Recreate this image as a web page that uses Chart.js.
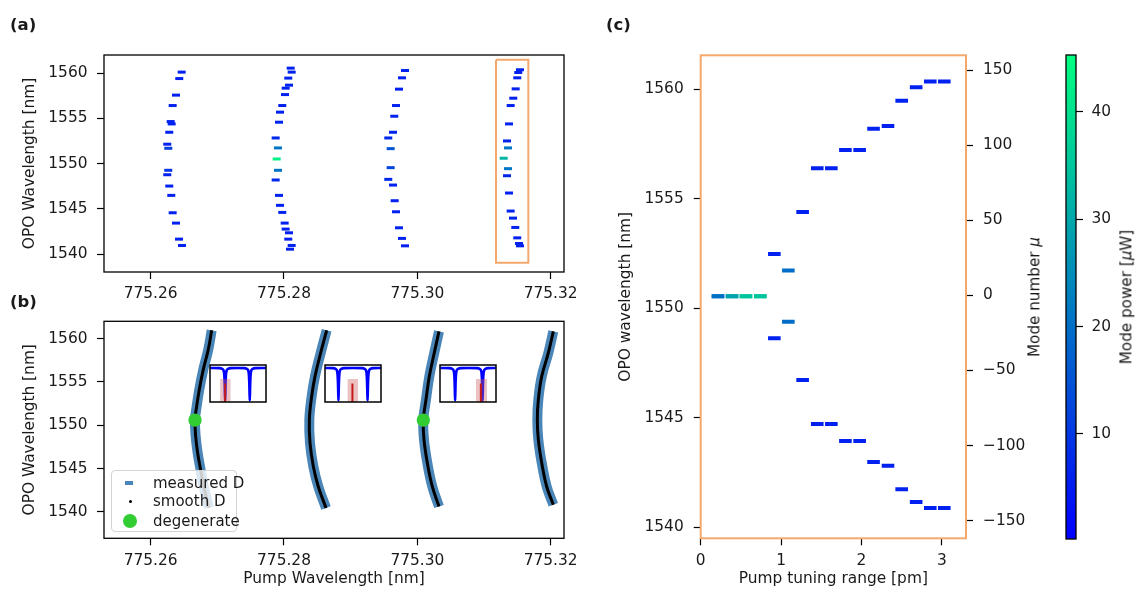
<!DOCTYPE html>
<html lang="en">
<head>
<meta charset="UTF-8">
<title>OPO tuning</title>
<script src="https://cdn.jsdelivr.net/npm/chart.js"></script>
<style>
    body { margin: 0; background: #fff; }
    .fig { position: relative; width: 1140px; height: 598px; overflow: hidden; background: #fff;
           font-family: 'DejaVu Sans', sans-serif; color: #1a1a1a; }
    .fig canvas { position: absolute; }
    .tag { position: absolute; font-weight: bold; font-size: 16.5px; line-height: 16px; }
    .vtitle { position: absolute; font-size: 15.2px; line-height: 1; white-space: nowrap;
              transform: translate(-50%, -50%) rotate(-90deg); }
    .legend { position: absolute; left: 111px; top: 470px; width: 126px; height: 62px; box-sizing: border-box;
              border: 1px solid #d4d4d4; border-radius: 4px; background: rgba(255,255,255,0.8); font-size: 15px; }
    .legend .txt { position: absolute; left: 41px; line-height: 1; transform: translateY(-50%); white-space: nowrap; }
    .legend .mk { position: absolute; }
</style>
</head>
<body>
<div class="fig">
    <canvas id="chartA" width="592" height="308" style="left:0;top:0"></canvas>
    <canvas id="chartB" width="592" height="290" style="left:0;top:308px"></canvas>
    <canvas id="inset1" width="60" height="41" style="left:208px;top:363px"></canvas>
    <canvas id="inset2" width="60" height="41" style="left:323px;top:363px"></canvas>
    <canvas id="inset3" width="60" height="41" style="left:438px;top:363px"></canvas>
    <canvas id="chartC" width="460" height="598" style="left:600px;top:0"></canvas>
    <canvas id="cbar" width="84" height="598" style="left:1056px;top:0"></canvas>

    <div class="tag" style="left:10px;top:17px">(a)</div>
    <div class="tag" style="left:10px;top:294px">(b)</div>
    <div class="tag" style="left:606px;top:17px">(c)</div>

    <div class="legend">
        <div class="mk" style="left:13px;top:10px;width:8px;height:4px;background:#4b86b9"></div>
        <div class="txt" style="top:12px">measured D</div>
        <div class="mk" style="left:16.5px;top:28.5px;width:3px;height:3px;border-radius:50%;background:#000"></div>
        <div class="txt" style="top:30px">smooth D</div>
        <div class="mk" style="left:11px;top:43px;width:14px;height:14px;border-radius:50%;background:#32cd32"></div>
        <div class="txt" style="top:50px">degenerate</div>
    </div>

    <div class="vtitle" style="left:1035px;top:297px">Mode number <i>μ</i></div>
    <div class="vtitle" style="left:1127px;top:297px">Mode power [<i>μ</i>W]</div>
</div>

<script>
    // ---------- (a) OPO lines vs pump wavelength, four pump sweeps ----------
    const pumpA1 = [775.26465, 775.26429, 775.26380, 775.26330, 775.26300, 775.26315, 775.26279, 775.26249, 775.26264,
                    775.26264, 775.26249, 775.26279, 775.26309, 775.26330, 775.26380, 775.26425, 775.26470];
    const opoA1  = [1560.11, 1559.40, 1557.57, 1556.42, 1554.65, 1554.39, 1553.47, 1552.15, 1551.70,
                    1549.27, 1548.78, 1547.53, 1546.50, 1544.58, 1543.44, 1541.67, 1540.97];
    const powA1  = [6, 6, 6, 6, 6, 6, 6, 6, 11, 9, 6, 6, 6, 6, 6, 6, 6];

    const pumpA2 = [775.28100, 775.28115, 775.28064, 775.28075, 775.28025, 775.28015, 775.27974, 775.27940, 775.27925,
                    775.27875, 775.27910, 775.27890, 775.27910, 775.27875, 775.27925, 775.27940, 775.27974, 775.28010,
                    775.28025, 775.28075, 775.28064, 775.28115, 775.28090];
    const opoA2  = [1560.55, 1560.11, 1559.45, 1558.67, 1558.34, 1557.63, 1556.42, 1555.69, 1554.58,
                    1552.84, 1551.74, 1550.52, 1549.27, 1548.20, 1546.50, 1545.40, 1544.62, 1543.44,
                    1542.78, 1542.37, 1541.67, 1540.97, 1540.56];
    const powA2  = [6, 6, 6, 6, 6, 6, 6, 6, 6, 7, 21, 43, 21, 7, 6, 6, 6, 6, 6, 6, 6, 6, 6];

    const pumpA3 = [775.29815, 775.29770, 775.29725, 775.29680, 775.29654, 775.29635, 775.29564, 775.29600,
                    775.29600, 775.29564, 775.29635, 775.29660, 775.29680, 775.29725, 775.29770, 775.29815];
    const opoA3  = [1560.29, 1559.48, 1558.23, 1556.42, 1555.24, 1553.47, 1552.84, 1551.66,
                    1549.56, 1548.27, 1547.64, 1545.91, 1544.69, 1542.92, 1541.75, 1540.93];
    const powA3  = [6, 6, 6, 6, 6, 6, 7, 15, 12, 7, 6, 6, 6, 6, 6, 6];

    const pumpA4 = [775.31540, 775.31514, 775.31499, 775.31475, 775.31439, 775.31400, 775.31375, 775.31345, 775.31360,
                    775.31295, 775.31360, 775.31345, 775.31375, 775.31400, 775.31435, 775.31469, 775.31499, 775.31525,
                    775.31540];
    const opoA4  = [1560.37, 1560.07, 1559.48, 1558.26, 1557.23, 1556.42, 1554.39, 1552.51, 1551.74,
                    1550.60, 1549.45, 1548.67, 1546.76, 1544.77, 1543.99, 1542.96, 1541.81, 1541.19,
                    1540.93];
    const powA4  = [6, 6, 6, 6, 6, 6, 6, 7, 21, 32, 21, 7, 6, 6, 6, 6, 6, 6, 6];

    // sweep shown in detail in (c)
    const highlightPump = [775.3118, 775.31665];
    const highlightOpo  = [1539.05, 1561.47];

    // ---------- (b) measured / smoothed D curves ----------
    const pumpB1 = [775.26915, 775.26864, 775.26789, 775.26729, 775.26690, 775.26665, 775.26675, 775.26705, 775.26740, 775.26800, 775.26875];
    const opoB1  = [1560.96, 1558.73, 1556.42, 1554.11, 1552.18, 1550.65, 1548.72, 1546.80, 1545.25, 1542.80, 1540.48];
    const pumpB2 = [775.28640, 775.28550, 775.28465, 775.28415, 775.28380, 775.28390, 775.28440, 775.28514, 775.28630];
    const opoB2  = [1560.96, 1558.35, 1555.65, 1553.34, 1550.65, 1547.96, 1545.25, 1542.94, 1540.45];
    const pumpB3 = [775.30325, 775.30254, 775.30180, 775.30130, 775.30090, 775.30100, 775.30150, 775.30224, 775.30325];
    const opoB3  = [1560.84, 1558.35, 1555.65, 1552.96, 1550.65, 1548.34, 1545.65, 1542.94, 1540.63];
    const pumpB4 = [775.32040, 775.31965, 775.31866, 775.31815, 775.31800, 775.31815, 775.31866, 775.31940, 775.32040];
    const opoB4  = [1560.84, 1558.35, 1555.65, 1552.96, 1550.65, 1548.34, 1545.65, 1542.94, 1540.83];
    const degPump = [775.26665, 775.30090];
    const degOpo  = [1550.60, 1550.60];

    // resonance insets: dip centres, shaded pump window, pump marker
    const dipsI = [[0.27, 0.71], [0.24, 0.76], [0.27, 0.76]];
    const shadeI = [[0.18, 0.37], [0.40, 0.59], [0.64, 0.84]];
    const markI = [0.27, 0.49, 0.73];
    const dipOffset = [-0.10, -0.05, -0.03, -0.02, -0.013, -0.008, -0.004, 0, 0.004, 0.008, 0.013, 0.02, 0.03, 0.05, 0.10];
    const dipLevel  = [0.915, 0.895, 0.86, 0.80, 0.68, 0.50, 0.25, 0.04, 0.25, 0.50, 0.68, 0.80, 0.86, 0.895, 0.915];
    const baseLevel = 0.92;
    const shadeTop = 0.62;
    const markTop = 0.50;

    // ---------- (c) single sweep: signal / idler vs tuning ----------
    const tuning  = [0.215, 0.39, 0.563, 0.741, 0.916, 1.09, 1.268, 1.45, 1.625, 1.80, 1.977, 2.15, 2.33, 2.50, 2.68, 2.856, 3.03];
    const signalC = [1550.55, 1550.55, 1550.55, 1550.55, 1552.48, 1551.72, 1554.40, 1556.39, 1556.39, 1557.23, 1557.23,
                     1558.20, 1558.32, 1559.47, 1560.09, 1560.35, 1560.35];
    const idlerC  = [1550.55, 1550.55, 1550.55, 1550.55, 1548.63, 1549.39, 1546.73, 1544.72, 1544.72, 1543.94, 1543.94,
                     1542.98, 1542.81, 1541.74, 1541.16, 1540.88, 1540.88];
    const powerC  = [20, 29, 35, 35, 6, 19.5, 6, 6, 6, 6, 6, 6, 6, 6, 6, 6, 6];

    // ---------- ticks ----------
    const pumpTicks = [775.26, 775.28, 775.30, 775.32];
    const opoTicks = [1540, 1545, 1550, 1555, 1560];
    const tuneTicks = [0, 1, 2, 3];
    const modeTicks = [-150, -100, -50, 0, 50, 100, 150];
    const powerTicks = [10, 20, 30, 40];
    const cbMin = 0.2, cbMax = 45.3;

    // ---------- shared styling ----------
    Chart.defaults.font.family = "'DejaVu Sans', sans-serif";
    Chart.defaults.font.size = 15.4;
    Chart.defaults.color = '#1a1a1a';
    const ORANGE = '#f4a86c';

    // box around each plot area
    Chart.register({
        id: 'frame',
        afterDraw(chart, args, opts) {
            const { ctx, chartArea: a } = chart;
            ctx.save();
            ctx.strokeStyle = opts.color || '#000';
            ctx.lineWidth = opts.width || 1.3;
            ctx.strokeRect(a.left, a.top, a.right - a.left, a.bottom - a.top);
            ctx.restore();
        }
    });

    function winter(p) {
        const t = Math.min(1, Math.max(0, (p - cbMin) / (cbMax - cbMin)));
        return `rgb(0,${Math.round(255 * t)},${Math.round(255 * (1 - 0.5 * t))})`;
    }

    function pts(xs, ys) {
        return xs.map((x, i) => ({ x, y: ys[i] }));
    }

    function axis(min, max, ticks, fmt, opts) {
        const o = opts || {};
        return {
            type: 'linear', min, max, position: o.position,
            afterBuildTicks: s => { s.ticks = ticks.map(v => ({ value: v })); },
            afterFit: s => {
                if (o.width !== undefined) s.width = o.width;
                if (o.height !== undefined) s.height = o.height;
                // plot areas are placed by hand, so no room for overhanging labels
                s.paddingLeft = s.paddingRight = s.paddingTop = s.paddingBottom = 0;
            },
            grid: { display: true, drawOnChartArea: false, drawTicks: true, tickLength: 7, tickWidth: 1.2, tickColor: '#000' },
            border: { display: false },
            ticks: { padding: o.pad || 8, callback: fmt, maxRotation: 0, autoSkip: false },
            title: o.title ? { display: true, text: o.title, padding: o.titlePad } : { display: false }
        };
    }

    const base = {
        responsive: false, animation: false, events: [],
        plugins: { legend: { display: false }, tooltip: { enabled: false } }
    };

    function dashSet(xs, ys, pw, radius, width) {
        const colors = pw.map(winter);
        return {
            data: pts(xs, ys), showLine: false, pointStyle: 'line',
            pointRadius: radius, pointBorderWidth: width,
            pointBorderColor: colors, pointBackgroundColor: colors
        };
    }

    // ---------- (a) ----------
    new Chart(document.getElementById('chartA'), {
        type: 'scatter',
        data: {
            datasets: [
                dashSet(pumpA1, opoA1, powA1, 4, 3),
                dashSet(pumpA2, opoA2, powA2, 4, 3),
                dashSet(pumpA3, opoA3, powA3, 4, 3),
                dashSet(pumpA4, opoA4, powA4, 4, 3),
                {
                    data: pts([highlightPump[0], highlightPump[1], highlightPump[1], highlightPump[0], highlightPump[0]],
                              [highlightOpo[1], highlightOpo[1], highlightOpo[0], highlightOpo[0], highlightOpo[1]]),
                    showLine: true, borderColor: ORANGE, borderWidth: 2, pointRadius: 0, tension: 0
                }
            ]
        },
        options: {
            ...base,
            layout: { padding: { left: 0, top: 55, right: 28, bottom: 0 } },
            scales: {
                x: axis(775.2530, 775.3220, pumpTicks, v => v.toFixed(2), { height: 36, pad: 6 }),
                y: axis(1538.04, 1562.0, opoTicks, v => String(v),
                        { width: 104, pad: 9.5, title: 'OPO Wavelength [nm]', titlePad: { top: 20.6, bottom: 0 } })
            }
        }
    });

    // ---------- (b) ----------
    const curvesB = [[pumpB1, opoB1], [pumpB2, opoB2], [pumpB3, opoB3], [pumpB4, opoB4]];
    const setsB = [{
        data: pts(degPump, degOpo), showLine: false, pointStyle: 'circle', pointRadius: 6.7,
        pointBackgroundColor: '#32cd32', pointBorderWidth: 0, order: 0
    }];
    curvesB.forEach(([px, py]) => {
        setsB.push({ data: pts(px, py), showLine: true, borderColor: '#000', borderWidth: 3, pointRadius: 0, tension: 0.4, order: 1 });
        setsB.push({ data: pts(px, py), showLine: true, borderColor: '#4b86b9', borderWidth: 10, pointRadius: 0, tension: 0.4, order: 2 });
    });

    new Chart(document.getElementById('chartB'), {
        type: 'scatter',
        data: { datasets: setsB },
        options: {
            ...base,
            layout: { padding: { left: 0, top: 13.3, right: 28, bottom: 0 } },
            scales: {
                x: axis(775.2530, 775.3220, pumpTicks, v => v.toFixed(2),
                        { height: 59.7, pad: 6, title: 'Pump Wavelength [nm]', titlePad: { top: 0, bottom: 9.4 } }),
                y: axis(1536.96, 1562.0, opoTicks, v => String(v),
                        { width: 104, pad: 9.5, title: 'OPO Wavelength [nm]', titlePad: { top: 20.6, bottom: 0 } })
            }
        }
    });

    // ---------- resonance insets ----------
    function dipTrace(dips) {
        const xs = [0], ys = [baseLevel];
        dips.forEach(c => {
            dipOffset.forEach((d, i) => { xs.push(c + d); ys.push(dipLevel[i]); });
        });
        xs.push(1); ys.push(baseLevel);
        return pts(xs, ys);
    }

    ['inset1', 'inset2', 'inset3'].forEach((id, k) => {
        new Chart(document.getElementById(id), {
            type: 'scatter',
            data: {
                datasets: [
                    { data: pts([markI[k], markI[k]], [0, markTop]), showLine: true, borderColor: '#c41a1a',
                      borderWidth: 2, pointRadius: 0, order: 1 },
                    { data: pts(shadeI[k], [shadeTop, shadeTop]), showLine: true, borderWidth: 0, pointRadius: 0,
                      fill: 'start', backgroundColor: 'rgba(205,92,92,0.38)', order: 2 },
                    { data: dipTrace(dipsI[k]), showLine: true, borderColor: '#0000ff', borderWidth: 2.6,
                      pointRadius: 0, tension: 0.3, order: 3 }
                ]
            },
            options: {
                ...base,
                plugins: { ...base.plugins, frame: { width: 1.5 } },
                layout: { padding: 2 },
                scales: {
                    x: { type: 'linear', min: 0, max: 1, display: false },
                    y: { type: 'linear', min: 0, max: 1, display: false }
                }
            }
        });
    });

    // ---------- (c) ----------
    new Chart(document.getElementById('chartC'), {
        type: 'scatter',
        data: {
            datasets: [
                dashSet(tuning, signalC, powerC, 6.3, 4),
                dashSet(tuning, idlerC, powerC, 6.3, 4),
                { data: [], yAxisID: 'y2' }
            ]
        },
        options: {
            ...base,
            plugins: { ...base.plugins, frame: { color: ORANGE, width: 2 } },
            layout: { padding: { left: 0, top: 55.3, right: 0, bottom: 0 } },
            scales: {
                x: axis(0, 3.30, tuneTicks, v => String(v),
                        { height: 59.7, pad: 6, title: 'Pump tuning range [pm]', titlePad: { top: 0, bottom: 9.4 } }),
                y: axis(1539.5, 1561.55, opoTicks, v => String(v),
                        { width: 100.7, pad: 10, title: 'OPO wavelength [nm]', titlePad: { top: 16.6, bottom: 0 } }),
                y2: axis(-161.7, 159.8, modeTicks, v => String(v).replace('-', '\u2212'),
                        { width: 94, pad: 10, position: 'right' })
            }
        }
    });

    // ---------- colorbar ----------
    new Chart(document.getElementById('cbar'), {
        type: 'bar',
        data: {
            labels: [''],
            datasets: [{
                data: [[cbMin, cbMax]], barPercentage: 1, categoryPercentage: 1, borderWidth: 0,
                backgroundColor: c => {
                    const a = c.chart.chartArea;
                    if (!a) return winter(cbMin);
                    const g = c.chart.ctx.createLinearGradient(0, a.bottom, 0, a.top);
                    g.addColorStop(0, winter(cbMin));
                    g.addColorStop(1, winter(cbMax));
                    return g;
                }
            }]
        },
        options: {
            ...base,
            layout: { padding: { left: 10, top: 55, right: 0, bottom: 59 } },
            scales: {
                x: { display: false },
                y: axis(cbMin, cbMax, powerTicks, v => String(v), { width: 64, pad: 8.5, position: 'right' })
            }
        }
    });
</script>
</body>
</html>
